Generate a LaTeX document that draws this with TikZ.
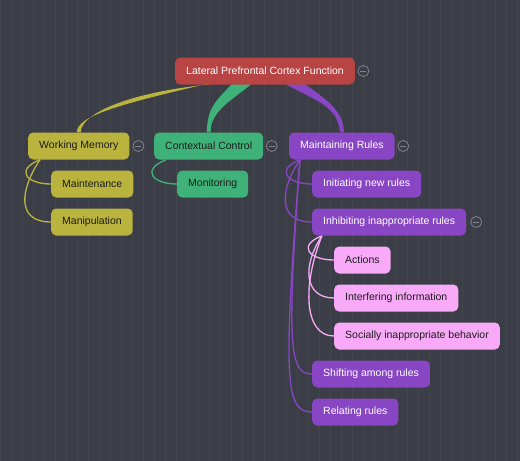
\documentclass[tikz,border=0pt]{standalone}
\usepackage{fontspec}
\setmainfont{Liberation Sans}
\definecolor{boardgray}{RGB}{59,62,70}
\definecolor{gridgray}{RGB}{67,70,79}
\definecolor{rootred}{RGB}{185,68,68}
\definecolor{wmyellow}{RGB}{186,180,62}
\definecolor{ccgreen}{RGB}{62,178,120}
\definecolor{mrpurple}{RGB}{136,70,196}
\definecolor{subpink}{RGB}{248,170,248}
\definecolor{inkdark}{RGB}{28,28,28}
\definecolor{knobgray}{RGB}{128,130,142}
\usetikzlibrary{shapes, arrows.meta, positioning, calc}
\pgfdeclarelayer{board}
\pgfdeclarelayer{branch}
\pgfsetlayers{board,branch,main}

\tikzset{
  topic/.style={rounded corners=5pt, minimum height=27pt, inner xsep=11pt, font=\fontsize{10.5}{12}\selectfont},
  knob/.style={circle, draw=knobgray, line width=0.8pt, minimum size=11pt, inner sep=0pt,
    path picture={\draw[knobgray, line width=0.8pt] ($(path picture bounding box.center)+(-3,0)$) -- ++(6,0);}},
  twig/.style={line width=1.3pt}
}

\begin{document}
\begin{tikzpicture}[x=1pt, y=-1pt]
  \useasboundingbox (0,0) rectangle (520,461);
  % board
  \begin{pgfonlayer}{board}
    \fill[boardgray] (0,0) rectangle (520,461);
    \draw[gridgray, line width=0.6pt, step=11] (0,0) grid (520,461);
  \end{pgfonlayer}

  % main topics
  \node[topic, fill=rootred, text=white] (root) at (265,71) {Lateral Prefrontal Cortex Function};
  \node[topic, fill=wmyellow, text=inkdark, anchor=west] (wm) at (28,146) {Working Memory};
  \node[topic, fill=ccgreen, text=inkdark, anchor=west] (cc) at (154,146) {Contextual Control};
  \node[topic, fill=mrpurple, text=white, anchor=west] (mr) at (289,146) {Maintaining Rules};

  % subtopics
  \node[topic, fill=wmyellow, text=inkdark, anchor=west] (mnt) at (51,184) {Maintenance};
  \node[topic, fill=wmyellow, text=inkdark, anchor=west] (mnp) at (51,222) {Manipulation};
  \node[topic, fill=ccgreen, text=inkdark, anchor=west] (mon) at (177,184) {Monitoring};
  \node[topic, fill=mrpurple, text=white, anchor=west] (init) at (312,184) {Initiating new rules};
  \node[topic, fill=mrpurple, text=white, anchor=west] (inh) at (312,222) {Inhibiting inappropriate rules};
  \node[topic, fill=subpink, text=inkdark, anchor=west] (act) at (334,260) {Actions};
  \node[topic, fill=subpink, text=inkdark, anchor=west] (intf) at (334,298) {Interfering information};
  \node[topic, fill=subpink, text=inkdark, anchor=west] (soc) at (334,336) {Socially inappropriate behavior};
  \node[topic, fill=mrpurple, text=white, anchor=west] (shift) at (312,374) {Shifting among rules};
  \node[topic, fill=mrpurple, text=white, anchor=west] (rel) at (312,412) {Relating rules};

  % collapse knobs
  \node[knob, right=2.5pt of root] (rootk) {};
  \node[knob, right=3pt of wm] (wmk) {};
  \node[knob, right=2.5pt of cc] (cck) {};
  \node[knob, right=2.5pt of mr] (mrk) {};
  \node[knob, right=4pt of inh] (inhk) {};

  \begin{pgfonlayer}{branch}
  % tapered branches from the root
  \fill[wmyellow] ($(root.south)+(-53,-2)$) .. controls +(-95,22) and +(0,-16) .. ($(wm.north)+(-2,0)$)
    -- ($(wm.north)+(2,0)$) .. controls +(0,-18) and +(-100,8) .. ($(root.south)+(-38,-2)$) -- cycle;
  \fill[ccgreen] ($(root.south)+(-32,-2)$) .. controls +(-16,18) and +(1,-27) .. ($(cc.north)+(-2,0)$)
    -- ($(cc.north)+(2,0)$) .. controls +(-1,-22) and +(-17,15) .. ($(root.south)+(-12,-2)$) -- cycle;
  \fill[mrpurple] ($(root.south)+(18,-2)$) .. controls +(32,18) and +(-2,-27) .. ($(mr.north)+(-2,0)$)
    -- ($(mr.north)+(2,0)$) .. controls +(0,-24) and +(17,13) .. ($(root.south)+(38,-2)$) -- cycle;

  % twigs to subtopics
  \draw[twig, wmyellow] ($(wm.south west)+(12,0)$) .. controls +(-25,10) and +(-25,0) .. (mnt.west);
  \draw[twig, wmyellow] ($(wm.south west)+(12,0)$) .. controls +(-20,30) and +(-35,0) .. (mnp.west);
  \draw[twig, ccgreen] ($(cc.south west)+(12,0)$) .. controls +(-25,10) and +(-25,0) .. (mon.west);
  \draw[twig, mrpurple] ($(mr.south west)+(11,0)$) .. controls +(-25,10) and +(-25,0) .. (init.west);
  \draw[twig, mrpurple] ($(mr.south west)+(11,0)$) .. controls +(-20,30) and +(-35,0) .. (inh.west);
  \draw[twig, mrpurple] ($(mr.south west)+(11,0)$) .. controls +(-14,190) and +(-22,0) .. (shift.west);
  \draw[twig, mrpurple] ($(mr.south west)+(11,0)$) .. controls +(-18,225) and +(-26,0) .. (rel.west);
  \draw[twig, subpink] ($(inh.south west)+(10,0)$) .. controls +(-25,10) and +(-25,0) .. (act.west);
  \draw[twig, subpink] ($(inh.south west)+(10,0)$) .. controls +(-20,30) and +(-30,0) .. (intf.west);
  \draw[twig, subpink] ($(inh.south west)+(10,0)$) .. controls +(-20,50) and +(-30,0) .. (soc.west);
  \end{pgfonlayer}
\end{tikzpicture}
\end{document}
